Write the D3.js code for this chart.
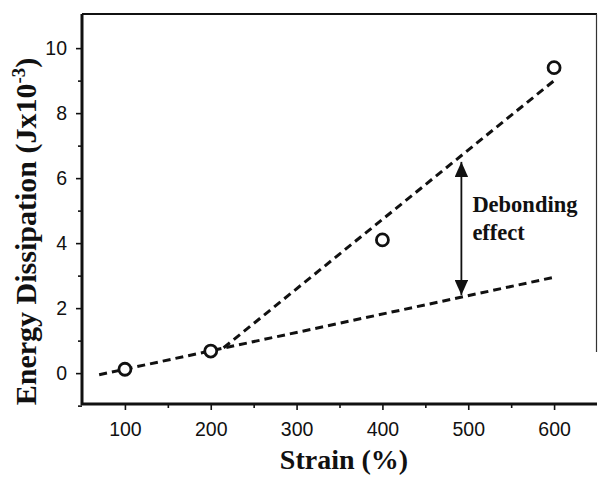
<!DOCTYPE html>
<html>
<head>
<meta charset="utf-8" />
<title>Energy dissipation vs strain</title>
<style>
body { margin: 0; background: #fff; }
#graph { width: 598px; height: 477px; }
.tick text { font-family: "Liberation Sans", Arial, sans-serif; font-size: 19.5px; fill: #111; }
.title { font-family: "Liberation Serif", "Times New Roman", serif; font-weight: bold; fill: #111; }
</style>
</head>
<body>
<div id="graph"></div>
<script src="https://cdnjs.cloudflare.com/ajax/libs/d3/7.8.5/d3.min.js"></script>
<script>
// measured points
var strain = [100, 200, 400, 600]
var energy = [0.12, 0.68, 4.1, 9.4]

// dashed guide lines [x, y]
var lowLine = [[70, -0.05], [600, 2.95]]
var highLine = [[215, 0.78], [600, 9.0]]

// debonding arrow: x, lower tip, upper tip
var arrowX = 492
var arrowLow = 2.4
var arrowHigh = 6.5

var xTicks = [100, 200, 300, 400, 500, 600]
var yTicks = [0, 2, 4, 6, 8, 10]

!(function(){
    "use strict"

    var width = 598, height = 477
    var margin = {top: 14, left: 82, bottom: 73, right: 1}
    var chartWidth = width - margin.left - margin.right
    var chartHeight = height - margin.top - margin.bottom

    var svg = d3.select("#graph").append("svg")
        .attr("width", width).attr("height", height)

    var defs = svg.append("defs")
    defs.append("marker").attr("id", "head")
        .attr("viewBox", "0 0 10 10").attr("refX", 10).attr("refY", 5)
        .attr("markerWidth", 8.5).attr("markerHeight", 7.5)
        .attr("markerUnits", "strokeWidth")
        .attr("orient", "auto-start-reverse")
        .attr("preserveAspectRatio", "none")
        .append("path").attr("d", "M0,0 L10,5 L0,10 z").attr("fill", "#111")

    var g = svg.append("g").attr("transform", "translate(" + [margin.left, margin.top] + ")")

    var x = d3.scaleLinear().domain([50, 650]).range([0, chartWidth])
    var y = d3.scaleLinear().domain([-0.95, 11.05]).range([chartHeight, 0])

    // frame: top and partial right
    g.append("line").attr("x1", 0).attr("x2", chartWidth).attr("y1", 0).attr("y2", 0)
        .attr("stroke", "#111").attr("stroke-width", 2)
    g.append("line").attr("x1", chartWidth - 0.5).attr("x2", chartWidth - 0.5)
        .attr("y1", 0).attr("y2", y(0.65))
        .attr("stroke", "#333").attr("stroke-width", 1.2)

    // minor ticks
    var xMinor = d3.axisBottom(x).tickValues([150, 250, 350, 450, 550]).tickSize(4).tickFormat("")
    g.append("g").attr("transform", "translate(0," + chartHeight + ")").call(xMinor)
    var yMinor = d3.axisLeft(y).tickValues([-1, 1, 3, 5, 7, 9]).tickSize(4).tickFormat("")
    g.append("g").call(yMinor)

    var xAxis = d3.axisBottom(x).tickValues(xTicks).tickSize(6).tickPadding(12)
    g.append("g").attr("transform", "translate(0," + chartHeight + ")").call(xAxis)
    var yAxis = d3.axisLeft(y).tickValues(yTicks).tickSize(6).tickPadding(9)
    g.append("g").call(yAxis)

    g.selectAll(".domain").remove()
    g.selectAll(".tick line").attr("stroke", "#111").attr("stroke-width", 1.6)

    g.append("line").attr("x1", -1).attr("x2", chartWidth).attr("y1", chartHeight).attr("y2", chartHeight)
        .attr("stroke", "#111").attr("stroke-width", 3)
    g.append("line").attr("x1", 0).attr("x2", 0).attr("y1", 0).attr("y2", chartHeight + 1)
        .attr("stroke", "#111").attr("stroke-width", 3)

    // dashed lines
    var line = d3.line().x(function(d){ return x(d[0]) }).y(function(d){ return y(d[1]) })
    ;[lowLine, highLine].forEach(function(l){
        g.append("path").attr("d", line(l))
            .attr("fill", "none").attr("stroke", "#111")
            .attr("stroke-width", 3).attr("stroke-dasharray", "8 5")
    })

    // points
    g.selectAll(".pt").data(strain).enter().append("circle").classed("pt", true)
        .attr("cx", function(d){ return x(d) })
        .attr("cy", function(d, i){ return y(energy[i]) })
        .attr("r", 6)
        .attr("fill", "#fff").attr("stroke", "#111").attr("stroke-width", 2.8)

    // arrow
    g.append("line")
        .attr("x1", x(arrowX)).attr("x2", x(arrowX))
        .attr("y1", y(arrowLow)).attr("y2", y(arrowHigh))
        .attr("stroke", "#111").attr("stroke-width", 1.8)
        .attr("marker-start", "url(#head)").attr("marker-end", "url(#head)")

    var note = g.append("text").attr("class", "title").attr("font-size", 22.5)
        .attr("x", x(arrowX) + 11).attr("y", 212 - margin.top)
    note.append("tspan").text("Debonding")
    note.append("tspan").attr("x", x(arrowX) + 11).attr("dy", 28).text("effect")

    // axis titles
    svg.append("text").attr("class", "title").attr("font-size", 28)
        .attr("text-anchor", "middle")
        .attr("x", 344).attr("y", 469)
        .text("Strain (%)")

    var yt = svg.append("text").attr("class", "title").attr("font-size", 30)
        .attr("text-anchor", "middle")
        .attr("transform", "translate(36,231.5) rotate(-90)")
    yt.append("tspan").text("Energy Dissipation (Jx10")
    yt.append("tspan").attr("font-size", 19).attr("dy", -11).text("-3")
    yt.append("tspan").attr("dy", 11).text(")")
}());
</script>
</body>
</html>
